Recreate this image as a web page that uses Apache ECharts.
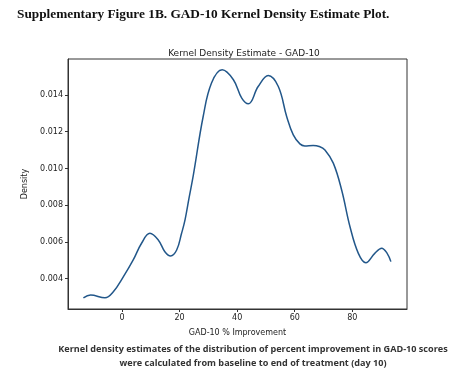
<!DOCTYPE html>
<html>
<head>
<meta charset="utf-8">
<script src="https://cdn.jsdelivr.net/npm/echarts@6/dist/echarts.min.js"></script>
<style>
  html, body { margin: 0; padding: 0; background: #fff; }
  #chart { width: 468px; height: 378px; }
</style>
</head>
<body>
<div id="chart"></div>
<script>
// KDE curve: x = % improvement, y = density
const xValues = [-13.4, -10.9, -5.9, -3, 0.5, 3.9, 6.8, 9.7, 12.6, 14.9, 16.9, 19, 20.7, 21.9, 23.3,
    24.8, 28.2, 31.1, 34.8, 38.7, 41.6, 43.9, 47.3, 50.8, 54.3, 57.2, 59.5, 61.8, 63.5, 66.4, 68.5,
    70.5, 73.4, 76.3, 79.2, 82.1, 84.7, 87.8, 90.2, 92.1, 93.4];
const densityValues = [0.00296, 0.00311, 0.00296, 0.00329, 0.00411, 0.00502, 0.00593, 0.00647, 0.00611,
    0.00547, 0.00524, 0.00556, 0.00647, 0.0072, 0.0084, 0.00965, 0.01283, 0.01465, 0.01537, 0.01483,
    0.01383, 0.01352, 0.01446, 0.01506, 0.01446, 0.01283, 0.01183, 0.01134, 0.01123, 0.01125, 0.0112,
    0.01101, 0.01029, 0.00883, 0.00683, 0.00538, 0.00487, 0.00538, 0.00566, 0.00538, 0.00493];
const xTicks = [0, 20, 40, 60, 80];
const yTicks = [0.004, 0.006, 0.008, 0.010, 0.012, 0.014];

const chart = echarts.init(document.getElementById('chart'));

const axisFont = {fontFamily: 'DejaVu Sans', fontSize: 8, color: '#222'};

chart.setOption({
    animation: false,
    title: [
        {
            text: 'Supplementary Figure 1B. GAD-10 Kernel Density Estimate Plot.',
            left: 12, top: 3,
            textStyle: {fontFamily: 'Liberation Serif', fontWeight: 'bold', fontSize: 13.3, color: '#111'},
        },
        {
            text: 'Kernel Density Estimate - GAD-10',
            left: 239, top: 44, textAlign: 'center',
            textStyle: {fontFamily: 'DejaVu Sans', fontWeight: 'normal', fontSize: 9, color: '#222'},
        },
        {
            text: 'Kernel density estimates of the distribution of percent improvement in GAD-10 scores\nwere calculated from baseline to end of treatment (day 10)',
            left: 248, top: 337, textAlign: 'center',
            textStyle: {fontFamily: 'Open Sans', fontWeight: 'bold', fontSize: 9.1, lineHeight: 14, color: '#333'},
        },
    ],
    grid: {left: 68, right: 61, top: 59, bottom: 69, show: true, borderColor: '#333', borderWidth: 1},
    xAxis: {
        type: 'value',
        min: -18.75,
        max: 99,
        name: 'GAD-10 % Improvement',
        nameLocation: 'middle',
        nameGap: 20,
        nameTextStyle: axisFont,
        splitLine: {show: false},
        axisLine: {show: true, onZero: false, lineStyle: {color: '#333'}},
        axisTick: {show: true, length: 3, customValues: xTicks, lineStyle: {color: '#333'}},
        axisLabel: {customValues: xTicks, margin: 5, ...axisFont},
    },
    yAxis: {
        type: 'value',
        min: 0.00235,
        max: 0.01596,
        name: 'Density',
        nameLocation: 'middle',
        nameGap: 30,
        nameTextStyle: axisFont,
        splitLine: {show: false},
        axisLine: {show: true, onZero: false, lineStyle: {color: '#333'}},
        axisTick: {show: true, length: 3, customValues: yTicks, lineStyle: {color: '#333'}},
        axisLabel: {customValues: yTicks, margin: 5, formatter: v => v.toFixed(3), ...axisFont},
    },
    series: [{
        type: 'line',
        data: xValues.map((x, i) => [x, densityValues[i]]),
        smooth: 0.4,
        showSymbol: false,
        lineStyle: {color: '#22578a', width: 1.5},
    }],
});
</script>
</body>
</html>
